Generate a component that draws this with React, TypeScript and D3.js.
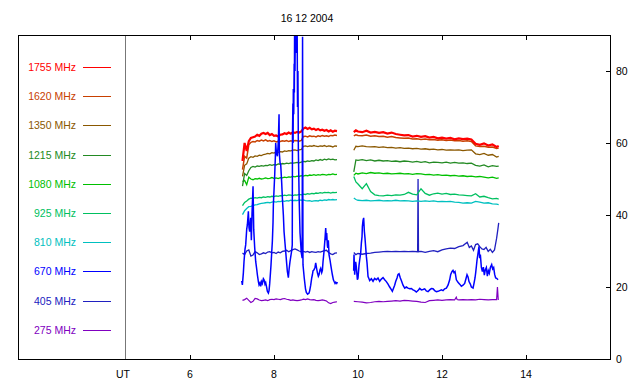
import React from 'react';
import * as d3 from 'd3';

const TITLE = '16 12 2004';
const X_TICKS = [6, 8, 10, 12, 14];
const Y_TICKS = [0, 20, 40, 60, 80];
const LEGEND = ['1755 MHz', '1620 MHz', '1350 MHz', '1215 MHz', '1080 MHz', '925 MHz', '810 MHz', '670 MHz', '405 MHz', '275 MHz'];
const COLORS = ['#ff0000', '#c84000', '#8a5800', '#238a23', '#00c000', '#00c060', '#00c0c0', '#0000ff', '#2020c0', '#8000c0'];

// shared time grids (UT hours)
const T1 = [7.25, 7.30, 7.35, 7.40, 7.45, 7.50, 7.55, 7.60, 7.65, 7.70, 7.75, 7.80, 7.85, 7.90, 7.95, 8.00, 8.05, 8.10, 8.15, 8.20, 8.25, 8.30, 8.35, 8.40, 8.45, 8.50, 8.55, 8.60, 8.65, 8.70, 8.75, 8.80, 8.85, 8.90, 8.95, 9.00, 9.05, 9.10, 9.15, 9.20, 9.25, 9.30, 9.35, 9.40, 9.45, 9.50];
const T2 = [9.90, 9.95, 10.0, 10.1, 10.2, 10.3, 10.4, 10.5, 10.6, 10.7, 10.8, 10.9, 11.0, 11.1, 11.2, 11.3, 11.4, 11.5, 11.6, 11.7, 11.8, 11.9, 12.0, 12.1, 12.2, 12.3, 12.4, 12.5, 12.6, 12.7, 12.8, 12.9, 13.0, 13.1, 13.2, 13.3, 13.35];

const F1755_A = [55.0, 60.0, 57.8, 60.5, 61.4, 61.6, 61.8, 62.3, 62.0, 62.6, 62.8, 62.5, 62.8, 62.2, 62.5, 62.0, 62.1, 61.8, 62.3, 62.4, 62.7, 62.5, 62.9, 62.6, 63.0, 62.8, 63.1, 62.9, 63.2, 64.0, 64.3, 63.9, 64.2, 63.8, 64.0, 63.6, 63.9, 63.5, 63.7, 63.4, 63.6, 63.2, 63.5, 63.1, 63.4, 63.3];
const F1755_B = [63.0, 63.5, 63.2, 63.0, 63.4, 62.9, 63.1, 62.8, 63.0, 62.6, 62.9, 62.5, 62.3, 62.1, 62.2, 61.8, 62.0, 61.7, 61.9, 61.5, 61.7, 61.3, 61.5, 61.2, 61.4, 61.0, 61.3, 61.1, 61.2, 61.0, 59.8, 59.5, 59.9, 59.3, 59.6, 58.9, 59.2];

const F1620_A = [52.6, 56.3, 55.8, 59.5, 60.2, 60.4, 60.3, 60.7, 60.5, 60.8, 60.6, 60.9, 60.5, 60.7, 60.4, 60.6, 60.3, 60.5, 60.4, 60.6, 60.5, 60.7, 60.4, 60.6, 60.5, 60.7, 60.6, 60.5, 60.7, 61.8, 61.9, 61.7, 62.0, 61.8, 61.9, 61.7, 62.0, 61.8, 62.1, 61.9, 62.0, 61.8, 62.1, 62.0, 62.2, 62.1];
const F1620_B = [62.0, 62.3, 62.1, 62.0, 62.2, 61.9, 62.0, 61.8, 61.9, 61.6, 61.8, 61.5, 61.4, 61.3, 61.4, 61.1, 61.2, 61.0, 61.1, 60.9, 61.0, 60.8, 60.9, 60.7, 60.8, 60.6, 60.7, 60.5, 60.6, 60.4, 59.2, 59.0, 59.1, 58.8, 58.9, 58.5, 58.6];

const F1350_A = [50.7, 53.8, 54.2, 55.8, 56.2, 56.0, 56.4, 56.3, 56.6, 56.5, 56.8, 56.9, 57.1, 57.0, 57.3, 57.2, 57.5, 57.4, 57.6, 57.5, 57.8, 57.7, 57.9, 57.8, 58.0, 58.1, 57.9, 58.1, 58.2, 59.1, 59.2, 59.0, 59.2, 59.1, 59.3, 59.1, 59.0, 59.2, 59.1, 59.3, 59.0, 59.2, 59.1, 58.9, 59.2, 59.1];
const F1350_B = [58.0, 59.1, 59.0, 59.2, 59.0, 58.9, 59.0, 58.8, 58.9, 58.7, 58.8, 58.6, 58.7, 58.5, 58.6, 58.4, 58.5, 58.3, 58.4, 58.2, 58.3, 58.1, 58.2, 58.0, 58.1, 58.0, 58.1, 57.9, 58.0, 58.1, 57.0, 56.8, 57.1, 56.6, 56.8, 56.1, 56.3];

const F1215_A = [48.0, 51.5, 51.0, 52.3, 53.2, 53.5, 53.3, 53.6, 53.5, 53.7, 53.6, 53.8, 53.7, 54.0, 53.8, 54.0, 53.9, 54.2, 54.1, 54.3, 54.2, 54.4, 54.3, 54.5, 54.4, 54.5, 54.6, 54.5, 54.7, 54.9, 54.8, 55.0, 54.9, 55.1, 55.0, 55.3, 55.1, 55.4, 55.2, 55.5, 55.3, 55.6, 55.4, 55.5, 55.3, 55.4];
const F1215_B = [52.0, 55.3, 55.2, 55.4, 55.1, 55.3, 55.0, 55.2, 55.0, 55.1, 54.9, 55.0, 54.8, 55.0, 54.9, 54.7, 54.9, 54.6, 54.8, 54.5, 54.7, 54.6, 54.5, 54.7, 54.4, 54.6, 54.4, 54.5, 54.3, 54.4, 53.8, 53.6, 53.9, 53.4, 53.7, 53.5, 53.6];

const F1080_A = [49.3, 49.6, 48.4, 50.5, 50.0, 49.8, 50.1, 50.0, 50.2, 50.0, 50.1, 50.3, 50.1, 50.2, 50.4, 50.2, 50.3, 50.1, 50.4, 50.3, 50.5, 50.4, 50.6, 50.5, 50.7, 50.6, 50.8, 50.7, 50.9, 50.8, 51.0, 50.9, 51.1, 51.0, 51.2, 51.0, 51.2, 51.1, 51.3, 51.2, 51.1, 51.3, 51.2, 51.4, 51.2, 51.3];
const F1080_B = [51.0, 51.6, 51.4, 51.7, 51.5, 51.8, 51.6, 51.7, 51.5, 51.6, 51.4, 51.5, 51.6, 51.4, 51.5, 51.3, 51.5, 51.4, 51.2, 51.3, 51.1, 51.2, 51.0, 51.1, 50.9, 51.0, 50.8, 50.9, 50.7, 50.8, 50.6, 50.7, 50.5, 50.3, 50.5, 50.2, 50.3];

const F925_A = [42.6, 43.5, 43.9, 44.4, 44.7, 44.6, 44.8, 44.7, 44.9, 44.8, 45.0, 44.9, 45.1, 45.0, 45.2, 45.1, 45.3, 45.2, 45.4, 45.3, 45.5, 45.4, 45.6, 45.5, 45.4, 45.6, 45.5, 45.7, 45.6, 45.8, 45.7, 45.9, 45.8, 46.0, 45.9, 46.1, 46.0, 46.2, 46.1, 46.3, 46.2, 46.3, 46.1, 46.3, 46.2, 46.3];
const F925_B = [50.7, 49.2, 48.6, 47.3, 48.7, 46.5, 45.6, 45.4, 45.3, 45.5, 45.4, 45.6, 45.5, 45.7, 46.3, 45.8, 45.6, 47.3, 46.0, 45.5, 45.9, 46.1, 45.8, 46.0, 45.7, 45.8, 45.6, 45.5, 45.4, 45.3, 45.9, 45.0, 45.2, 44.8, 44.5, 44.6, 44.4];

const F810_A = [40.1, 41.2, 41.8, 42.3, 42.4, 42.6, 42.8, 42.9, 43.1, 43.2, 43.3, 43.4, 43.5, 43.4, 43.6, 43.7, 43.6, 43.8, 43.7, 43.9, 43.8, 44.0, 43.9, 44.1, 44.0, 44.1, 44.0, 44.2, 44.1, 44.2, 44.0, 43.9, 44.0, 43.8, 43.9, 44.0, 43.9, 44.1, 44.0, 44.2, 44.1, 44.3, 44.2, 44.3, 44.2, 44.3];
const F810_B = [44.7, 44.3, 44.1, 44.0, 44.1, 43.9, 44.0, 44.1, 43.9, 44.0, 43.9, 44.1, 43.9, 44.0, 43.9, 43.8, 43.9, 43.8, 43.9, 43.8, 43.9, 43.7, 43.8, 43.7, 43.8, 43.6, 43.5, 43.3, 43.4, 43.3, 43.8, 43.6, 43.3, 43.4, 43.1, 43.0, 42.9];

const F405_A = [29.4, 29.0, 30.0, 30.3, 28.6, 28.9, 29.8, 29.5, 29.0, 29.2, 29.5, 29.3, 29.7, 29.8, 29.5, 29.6, 29.3, 29.7, 29.5, 29.9, 30.0, 30.2, 29.8, 30.1, 30.4, 30.6, 30.3, 30.0, 29.8, 29.9, 29.7, 29.9, 29.6, 29.8, 29.7, 29.6, 29.8, 29.7, 29.9, 30.1, 30.2, 29.6, 29.2, 29.0, 29.4, 29.5];
const T405_B = [9.90, 9.95, 10.0, 10.1, 10.2, 10.3, 10.4, 10.5, 10.6, 10.7, 10.8, 10.9, 11.0, 11.1, 11.2, 11.3, 11.42, 11.43, 11.44, 11.5, 11.6, 11.7, 11.8, 11.9, 12.0, 12.1, 12.2, 12.3, 12.4, 12.5, 12.6, 12.65, 12.7, 12.75, 12.8, 12.85, 12.9, 12.95, 13.0, 13.05, 13.1, 13.15, 13.2, 13.25, 13.3, 13.33, 13.35];
const F405_B = [29.6, 29.0, 29.3, 29.1, 29.3, 29.4, 29.6, 29.7, 29.8, 29.9, 29.8, 29.9, 29.8, 29.9, 29.8, 29.9, 29.8, 50.0, 29.8, 29.9, 29.6, 29.9, 30.1, 29.8, 30.3, 30.6, 30.8, 30.7, 31.2, 31.5, 32.4, 31.0, 31.4, 30.2, 31.8, 32.0, 31.2, 30.6, 30.4, 31.0, 29.9, 30.5, 29.6, 30.3, 33.5, 36.0, 37.8];

const F275_A = [16.3, 16.5, 16.9, 16.3, 15.7, 16.0, 16.8, 16.7, 16.4, 16.2, 16.3, 16.4, 16.2, 16.5, 16.6, 16.5, 16.7, 16.6, 16.5, 16.7, 16.8, 16.6, 16.5, 16.3, 16.4, 16.3, 16.2, 16.3, 16.4, 16.6, 16.5, 16.7, 16.5, 16.4, 16.5, 16.3, 16.2, 16.3, 16.4, 16.3, 16.1, 15.6, 15.4, 15.7, 15.8, 15.9];
const T275_B = [9.90, 10.0, 10.1, 10.2, 10.3, 10.4, 10.5, 10.6, 10.7, 10.8, 10.9, 11.0, 11.1, 11.2, 11.3, 11.4, 11.5, 11.6, 11.7, 11.8, 11.9, 12.0, 12.1, 12.2, 12.3, 12.34, 12.36, 12.4, 12.5, 12.6, 12.7, 12.8, 12.9, 13.0, 13.1, 13.2, 13.3, 13.32, 13.34];
const F275_B = [16.0, 15.9, 15.8, 15.6, 15.7, 15.9, 16.0, 15.9, 16.0, 16.1, 16.2, 16.1, 16.3, 16.2, 16.1, 16.0, 15.8, 15.7, 16.2, 16.3, 16.4, 16.3, 16.4, 16.5, 16.4, 17.2, 16.5, 16.4, 16.5, 16.4, 16.5, 16.4, 16.6, 16.5, 16.4, 16.5, 16.5, 20.0, 16.4];

const T670_A = [7.231, 7.247, 7.271, 7.286, 7.310, 7.326, 7.350, 7.366, 7.390, 7.405, 7.421, 7.445, 7.461, 7.477, 7.501, 7.517, 7.540, 7.564, 7.588, 7.604, 7.628, 7.644, 7.667, 7.683, 7.707, 7.723, 7.747, 7.763, 7.786, 7.802, 7.826, 7.842, 7.866, 7.882, 7.898, 7.913, 7.929, 7.945, 7.961, 7.977, 7.985, 8.001, 8.017, 8.032, 8.040, 8.056, 8.080, 8.096, 8.104, 8.120, 8.128, 8.144, 8.160, 8.183, 8.199, 8.223, 8.239, 8.263, 8.278, 8.302, 8.318, 8.342, 8.360, 8.380, 8.400, 8.420, 8.435, 8.440, 8.450, 8.455, 8.460, 8.470, 8.480, 8.485, 8.490, 8.500, 8.510, 8.520, 8.530, 8.540, 8.550, 8.560, 8.570, 8.580, 8.600, 8.620, 8.650, 8.670, 8.680, 8.690, 8.720, 8.750, 8.770, 8.800, 8.834, 8.850, 8.874, 8.898, 8.914, 8.929, 8.953, 8.977, 8.993, 9.017, 9.033, 9.056, 9.072, 9.096, 9.112, 9.136, 9.152, 9.167, 9.191, 9.215, 9.231, 9.247, 9.255, 9.271, 9.279, 9.294, 9.310, 9.334, 9.350, 9.374, 9.390, 9.414, 9.429, 9.453, 9.469, 9.493, 9.509];
const F670_A = [21.7, 20.6, 24.0, 27.1, 30.5, 31.7, 36.0, 37.3, 41.0, 36.5, 35.4, 39.2, 33.0, 40.5, 48.0, 36.0, 31.0, 27.1, 25.0, 23.4, 21.5, 20.6, 21.2, 20.2, 21.5, 21.0, 22.3, 22.0, 20.8, 21.2, 19.8, 18.8, 18.3, 19.0, 21.0, 23.5, 26.2, 29.5, 32.7, 38.0, 42.9, 47.0, 51.2, 56.0, 60.0, 57.5, 56.3, 59.0, 60.9, 68.0, 57.0, 54.5, 54.0, 49.0, 44.8, 40.0, 35.4, 32.0, 29.9, 26.5, 24.3, 22.6, 25.0, 27.0, 28.5, 30.0, 31.7, 62.0, 71.0, 60.0, 75.0, 68.0, 82.0, 74.0, 90.0, 80.0, 96.0, 85.0, 96.0, 88.0, 95.0, 70.0, 80.0, 58.0, 44.0, 35.0, 29.5, 28.0, 89.5, 26.2, 22.5, 19.5, 18.5, 18.0, 18.3, 19.0, 20.5, 22.5, 23.4, 24.5, 24.8, 25.5, 26.7, 25.0, 24.0, 23.0, 23.4, 24.8, 25.2, 24.0, 24.6, 27.0, 29.9, 33.5, 36.4, 33.0, 35.0, 31.5, 30.9, 33.0, 29.0, 27.5, 26.2, 24.5, 23.4, 22.0, 21.6, 21.0, 21.3, 21.0, 21.4];

const T670_B = [9.897, 9.905, 9.921, 9.945, 9.961, 9.985, 10.000, 10.024, 10.040, 10.064, 10.080, 10.096, 10.104, 10.120, 10.135, 10.151, 10.167, 10.183, 10.199, 10.215, 10.239, 10.262, 10.278, 10.318, 10.358, 10.397, 10.437, 10.477, 10.516, 10.556, 10.596, 10.635, 10.675, 10.715, 10.754, 10.794, 10.818, 10.850, 10.873, 10.897, 10.929, 10.953, 10.977, 11.008, 11.032, 11.072, 11.112, 11.151, 11.191, 11.231, 11.270, 11.310, 11.350, 11.389, 11.429, 11.469, 11.509, 11.548, 11.588, 11.627, 11.667, 11.707, 11.747, 11.786, 11.826, 11.866, 11.905, 11.945, 11.985, 12.024, 12.064, 12.104, 12.143, 12.183, 12.207, 12.239, 12.262, 12.286, 12.310, 12.342, 12.381, 12.421, 12.461, 12.500, 12.540, 12.564, 12.596, 12.620, 12.643, 12.675, 12.699, 12.739, 12.762, 12.786, 12.802, 12.818, 12.834, 12.858, 12.881, 12.897, 12.913, 12.937, 12.961, 12.985, 13.008, 13.032, 13.056, 13.080, 13.104, 13.127, 13.151, 13.183, 13.206, 13.230, 13.254, 13.277, 13.302, 13.334];
const F670_B = [24.5, 29.0, 23.4, 27.0, 25.5, 22.0, 22.5, 26.0, 27.5, 29.5, 32.2, 34.0, 36.8, 38.5, 39.2, 35.5, 33.5, 31.0, 28.5, 26.7, 22.9, 22.3, 21.8, 22.3, 21.6, 22.4, 22.0, 22.5, 21.6, 22.2, 22.6, 22.0, 21.5, 20.8, 20.0, 19.3, 18.8, 19.8, 20.5, 21.5, 22.5, 23.5, 23.7, 22.5, 21.8, 20.5, 19.7, 20.0, 19.7, 19.5, 19.6, 19.2, 19.0, 18.6, 19.0, 19.6, 19.2, 19.3, 19.5, 18.9, 18.7, 19.2, 19.6, 19.5, 19.0, 18.7, 18.8, 19.0, 19.2, 19.0, 19.5, 19.7, 20.5, 22.0, 23.5, 24.3, 24.6, 24.0, 24.3, 22.0, 21.3, 20.8, 20.2, 20.5, 21.0, 22.0, 23.4, 22.8, 21.5, 20.8, 20.0, 19.7, 21.0, 22.5, 24.0, 25.7, 27.5, 29.4, 31.3, 28.0, 29.0, 25.5, 24.3, 25.5, 23.3, 24.8, 25.4, 23.0, 24.5, 23.8, 25.4, 26.2, 25.0, 25.4, 23.5, 22.5, 22.4, 22.0];

type Seg = [number[], number[]];
interface Series { label: string; color: string; segs: Seg[]; width: number }

const SERIES: Series[] = [
  { label: LEGEND[9], color: COLORS[9], segs: [[T1, F275_A], [T275_B, F275_B]], width: 1.2 },
  { label: LEGEND[8], color: COLORS[8], segs: [[T1, F405_A], [T405_B, F405_B]], width: 1.3 },
  { label: LEGEND[6], color: COLORS[6], segs: [[T1, F810_A], [T2, F810_B]], width: 1.3 },
  { label: LEGEND[5], color: COLORS[5], segs: [[T1, F925_A], [T2, F925_B]], width: 1.3 },
  { label: LEGEND[4], color: COLORS[4], segs: [[T1, F1080_A], [T2, F1080_B]], width: 1.3 },
  { label: LEGEND[3], color: COLORS[3], segs: [[T1, F1215_A], [T2, F1215_B]], width: 1.3 },
  { label: LEGEND[2], color: COLORS[2], segs: [[T1, F1350_A], [T2, F1350_B]], width: 1.3 },
  { label: LEGEND[1], color: COLORS[1], segs: [[T1, F1620_A], [T2, F1620_B]], width: 1.5 },
  { label: LEGEND[0], color: COLORS[0], segs: [[T1, F1755_A], [T2, F1755_B]], width: 2.2 },
  { label: LEGEND[7], color: COLORS[7], segs: [[T670_A, F670_A], [T670_B, F670_B]], width: 1.5 },
];

const W = 640;
const H = 384;
const FL = 18, FT = 35, FR = 611, FB = 359;
const FONT = "'Liberation Sans', Arial, sans-serif";

export default function App() {
  const x = d3.scaleLinear().domain([6, 14]).range([190, 526]);
  const y = d3.scaleLinear().domain([0, 90]).range([FB, FT]);
  const line = d3.line<[number, number]>().x(d => x(d[0])).y(d => y(d[1]));
  const utX = x(4.45);

  return (
    <div style={{ position: 'fixed', left: 0, top: 0 }}>
      <svg width={W} height={H} style={{ display: 'block', background: '#fff' }}>
        <defs>
          <clipPath id="plot">
            <rect x={FL} y={FT} width={FR - FL} height={FB - FT} />
          </clipPath>
        </defs>
        <rect x={0} y={0} width={W} height={H} fill="#fff" />
        <text x={307} y={22} textAnchor="middle" fontFamily={FONT} fontSize={10.5} fill="#000">{TITLE}</text>

        {/* legend */}
        {LEGEND.map((lab, i) => {
          const ly = 67 + i * 29.2;
          return (
            <g key={lab}>
              <text x={76} y={ly + 4} textAnchor="end" fontFamily={FONT} fontSize={10.5} fill={COLORS[i]}>{lab}</text>
              <line x1={83} x2={111} y1={Math.round(ly) + 0.5} y2={Math.round(ly) + 0.5} stroke={COLORS[i]} strokeWidth={1} />
            </g>
          );
        })}

        {/* UT line */}
        <line x1={Math.round(utX) + 0.5} x2={Math.round(utX) + 0.5} y1={FT} y2={FB} stroke="#777" strokeWidth={1} />
        <text x={utX - 2} y={378} textAnchor="middle" fontFamily={FONT} fontSize={10.5} fill="#000">UT</text>

        {/* data */}
        <g clipPath="url(#plot)">
          {SERIES.map(s => (
            <g key={s.label}>
              {s.segs.map((seg, j) => {
                const pts: [number, number][] = seg[0].map((t, k) => [t, seg[1][k]]);
                return <path key={j} d={line(pts) || ''} fill="none" stroke={s.color} strokeWidth={s.width} strokeLinejoin="miter" />;
              })}
            </g>
          ))}
        </g>

        {/* frame */}
        <rect x={FL + 0.5} y={FT + 0.5} width={FR - FL - 1} height={FB - FT} fill="none" stroke="#000" strokeWidth={1} />

        {/* x ticks */}
        {X_TICKS.map(t => (
          <g key={t}>
            <line x1={Math.round(x(t)) + 0.5} x2={Math.round(x(t)) + 0.5} y1={FB} y2={FB - 4} stroke="#000" />
            <line x1={Math.round(x(t)) + 0.5} x2={Math.round(x(t)) + 0.5} y1={FT} y2={FT + 5} stroke="#000" />
            <text x={x(t)} y={378} textAnchor="middle" fontFamily={FONT} fontSize={10.5} fill="#000">{t}</text>
          </g>
        ))}

        {/* y ticks on right */}
        {Y_TICKS.map(v => (
          <g key={v}>
            {v > 0 && <line x1={FR - 5} x2={FR} y1={Math.round(y(v)) + 0.5} y2={Math.round(y(v)) + 0.5} stroke="#000" />}
            <text x={616} y={y(v) + 4} fontFamily={FONT} fontSize={10.5} fill="#000">{v}</text>
          </g>
        ))}
      </svg>
    </div>
  );
}
